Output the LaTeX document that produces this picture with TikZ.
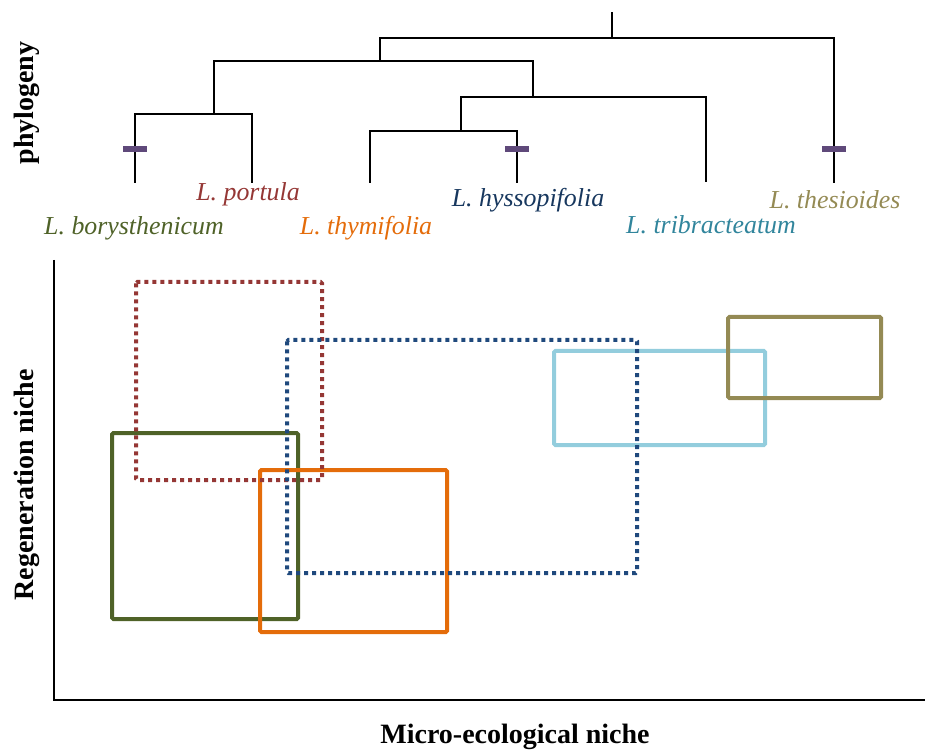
\documentclass[tikz,border=0pt]{standalone}
\usepackage{fontspec}
\setmainfont{Liberation Serif}
\usetikzlibrary{positioning}

\definecolor{borcol}{HTML}{4F6228}
\definecolor{porcol}{HTML}{953735}
\definecolor{thycol}{HTML}{E46C0A}
\definecolor{hyscol}{HTML}{1F497D}
\definecolor{hystext}{HTML}{17375E}
\definecolor{tricol}{HTML}{93CDDD}
\definecolor{tritext}{HTML}{31859C}
\definecolor{thecol}{HTML}{948A54}
\definecolor{barcol}{HTML}{5F497A}

\begin{document}
\begin{tikzpicture}[
    x=0.75pt, y=-0.75pt,
    branch/.style={draw, black, line width=1.5pt},
    trait/.style={draw, barcol, line width=4pt},
    species/.style={font=\fontsize{19.4}{22}\selectfont\itshape, inner sep=0pt},
    axislabel/.style={font=\fontsize{21}{24}\selectfont\bfseries, inner sep=0pt},
    axis/.style={draw, black, line width=2.2pt},
    niche/.style={line width=3pt, rounded corners=1pt},
    dotniche/.style={niche, dash pattern=on 3pt off 3pt}
]
\useasboundingbox (0,0) rectangle (925,752);

% Define leaves and joints of the tree
\coordinate (top) at (612,12);
\coordinate (bor) at (135,183);
\coordinate (por) at (252,183);
\coordinate (thy) at (370,183);
\coordinate (hys) at (517,183);
\coordinate (tri) at (706,182);
\coordinate (the) at (834,183);
\coordinate (j1) at (214,114);
\coordinate (j2) at (461,131);
\coordinate (j3) at (533,97);
\coordinate (j4) at (380,61);
\coordinate (j5) at (612,38);

% Draw branches
\draw[branch] (bor) |- (j1) -| (por);
\draw[branch] (thy) |- (j2) -| (hys);
\draw[branch] (j2) |- (j3) -| (tri);
\draw[branch] (j1) |- (j4) -| (j3);
\draw[branch] (j4) |- (j5) -| (the);
\draw[branch] (j5) -- (top);

\foreach \l in {bor,hys,the} {
    \draw[trait] ([shift={(-12,-34)}]\l) -- ++(24,0);
}

% Species names
\node[species, text=borcol] (borname) at (134,228) {L. borysthenicum};
\node[species, text=porcol] (porname) at (248,194) {L. portula};
\node[species, text=thycol] (thyname) at (366,228) {L. thymifolia};
\node[species, text=hystext] (hysname) at (528,200) {L. hyssopifolia};
\node[species, text=tritext] (triname) at (711,225) {L. tribracteatum};
\node[species, text=thecol] (thename) at (835,200) {L. thesioides};

% Axes
\coordinate (origin) at (54,700);
\coordinate (yend) at (54,260);
\coordinate (xend) at (925,700);
\draw[axis] (yend) -- (origin) -- (xend);

\node[axislabel, rotate=90] (phylo) at (27,103) {phylogeny};
\node[axislabel, rotate=90] (regen) at (27,485) {Regeneration niche};
\node[axislabel] (micro) at (515,737) {Micro-ecological niche};

% Niche boxes
\draw[niche, borcol] (112,433) rectangle (298,619);
\draw[niche, thycol] (260,470) rectangle (447,632);
\draw[niche, tricol] (554,351) rectangle (765,445);
\draw[niche, thecol] (728,317) rectangle (881,398);
\draw[dotniche, porcol] (136,282) rectangle (322,480);
\draw[dotniche, hyscol] (287,340) rectangle (637,573);

\end{tikzpicture}
\end{document}
